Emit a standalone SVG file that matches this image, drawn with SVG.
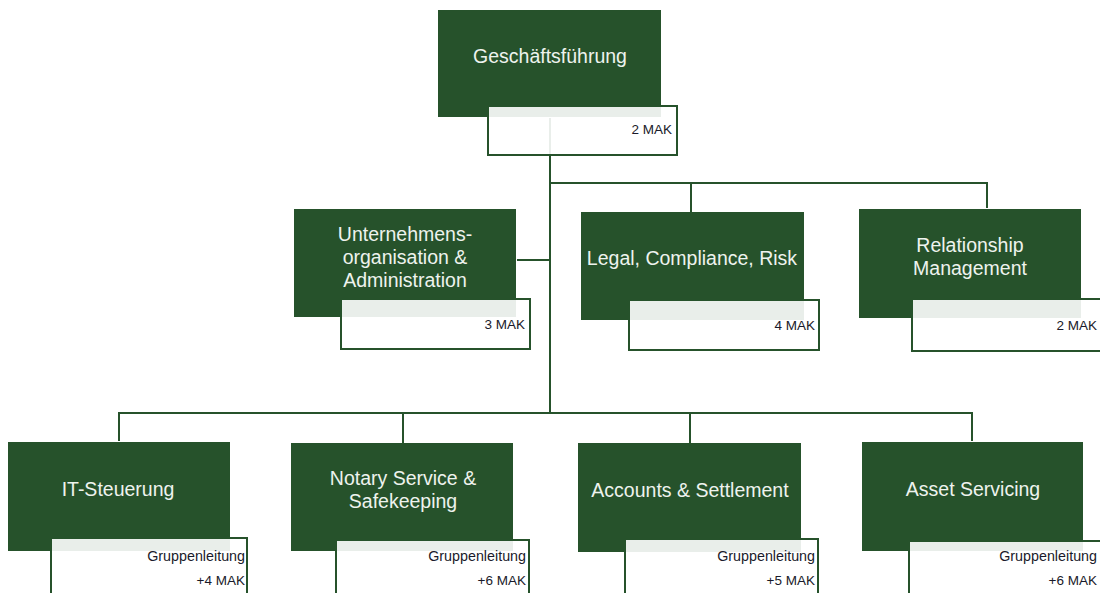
<svg xmlns="http://www.w3.org/2000/svg" width="1100" height="593" viewBox="0 0 1100 593">
<style>
.g{fill:#26522b}
.w{fill:#fff;fill-opacity:0.9;stroke:#26522b;stroke-width:2}
.t{font-family:"Liberation Sans",Arial,sans-serif;font-size:19.5px;fill:#eef3ee;text-anchor:middle}
.m{font-family:"Liberation Sans",Arial,sans-serif;font-size:13.5px;fill:#1a1a2a;text-anchor:end}
.gl{font-size:14.3px}
.c{fill:none;stroke:#26522b;stroke-width:2}
</style>
<rect width="1100" height="593" fill="#fff"/>
<g id="connectors">
<path class="c" d="M550 118V413M550 183H987V208M691 183V212M517 260H550M119 441V413H972V441M403 413V443M690 413V443"/>
</g>
<g id="n-gf">
<rect class="g" x="438" y="10" width="223" height="107"/>
<text class="t" x="550" y="63">Geschäftsführung</text>
<rect class="w" x="488" y="106" width="189" height="49"/>
<text class="m" x="672" y="134">2 MAK</text>
</g>
<g id="n-uoa">
<rect class="g" x="294" y="209" width="222" height="108"/>
<text class="t" x="405" y="241">Unternehmens-</text>
<text class="t" x="405" y="264">organisation &amp;</text>
<text class="t" x="405" y="287">Administration</text>
<rect class="w" x="341" y="299" width="189" height="50"/>
<text class="m" x="525" y="329">3 MAK</text>
</g>
<g id="n-lcr">
<rect class="g" x="581" y="212" width="223" height="108"/>
<text class="t" x="692" y="265">Legal, Compliance, Risk</text>
<rect class="w" x="629" y="300" width="190" height="50"/>
<text class="m" x="815" y="330">4 MAK</text>
</g>
<g id="n-rm">
<rect class="g" x="859" y="209" width="222" height="109"/>
<text class="t" x="970" y="252">Relationship</text>
<text class="t" x="970" y="275">Management</text>
<rect class="w" x="912" y="299" width="192" height="52"/>
<text class="m" x="1097" y="330">2 MAK</text>
</g>
<g id="n-it">
<rect class="g" x="8" y="442" width="222" height="109"/>
<text class="t" x="118" y="496">IT-Steuerung</text>
<rect class="w" x="51" y="538" width="196" height="70"/>
<text class="m gl" x="245" y="561">Gruppenleitung</text>
<text class="m" x="245" y="585">+4 MAK</text>
</g>
<g id="n-ns">
<rect class="g" x="291" y="443" width="222" height="108"/>
<text class="t" x="403" y="485">Notary Service &amp;</text>
<text class="t" x="403" y="508">Safekeeping</text>
<rect class="w" x="336" y="540" width="193" height="70"/>
<text class="m gl" x="526" y="561">Gruppenleitung</text>
<text class="m" x="526" y="585">+6 MAK</text>
</g>
<g id="n-as">
<rect class="g" x="578" y="443" width="223" height="109"/>
<text class="t" x="690" y="497">Accounts &amp; Settlement</text>
<rect class="w" x="625" y="539" width="193" height="70"/>
<text class="m gl" x="815" y="561">Gruppenleitung</text>
<text class="m" x="815" y="585">+5 MAK</text>
</g>
<g id="n-asv">
<rect class="g" x="862" y="442" width="221" height="109"/>
<text class="t" x="973" y="496">Asset Servicing</text>
<rect class="w" x="909" y="541" width="195" height="70"/>
<text class="m gl" x="1097" y="561">Gruppenleitung</text>
<text class="m" x="1097" y="585">+6 MAK</text>
</g>
</svg>
